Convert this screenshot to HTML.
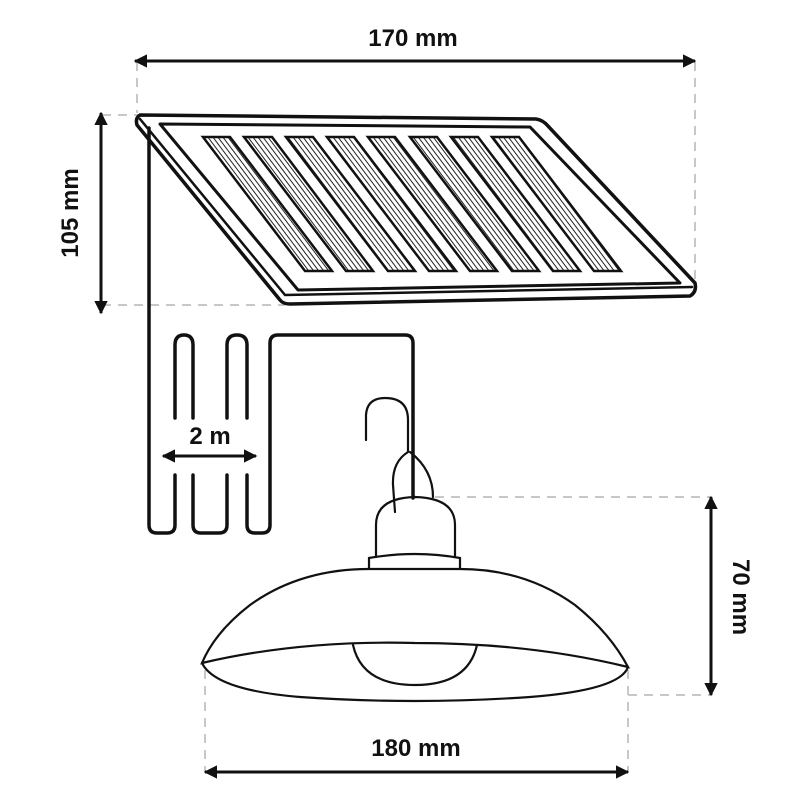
<!DOCTYPE html>
<html><head><style>body{margin:0;background:#fff}svg{display:block}text{font-family:"Liberation Sans",sans-serif;font-weight:bold;font-size:24px;fill:#111}</style></head>
<body>
<svg width="801" height="800" viewBox="0 0 801 800" xmlns="http://www.w3.org/2000/svg">
<defs>
<marker id="a" viewBox="0 0 10 10" refX="9" refY="5" markerWidth="4.5" markerHeight="4.5" orient="auto-start-reverse"><path d="M0,0L10,5L0,10z" fill="#111"/></marker>
<pattern id="h" width="4" height="4" patternUnits="userSpaceOnUse" patternTransform="rotate(53)"><rect width="4" height="4" fill="#fff"/><line x1="0" y1="0.5" x2="4" y2="0.5" stroke="#222" stroke-width="1"/></pattern>
</defs>
<g stroke="#c8c8c8" stroke-width="2" stroke-dasharray="9,7" fill="none">
<line x1="137" y1="62" x2="137" y2="113"/>
<line x1="695" y1="62" x2="695" y2="285"/>
<line x1="102" y1="115" x2="140" y2="115"/>
<line x1="102" y1="305" x2="285" y2="305"/>
<line x1="435" y1="497" x2="710" y2="497"/>
<line x1="628" y1="695" x2="710" y2="695"/>
<line x1="205" y1="670" x2="205" y2="772"/>
<line x1="628" y1="670" x2="628" y2="772"/>
</g>
<g stroke="#111" stroke-width="3" fill="none" marker-start="url(#a)" marker-end="url(#a)">
<line x1="135" y1="61" x2="695" y2="61"/>
<line x1="101" y1="113" x2="101" y2="313"/>
<line x1="711" y1="497" x2="711" y2="695"/>
<line x1="205" y1="772" x2="628" y2="772"/>
<line x1="163" y1="456" x2="256" y2="456"/>
</g>
<text x="413" y="46" text-anchor="middle">170 mm</text>
<text transform="translate(78,213) rotate(-90)" text-anchor="middle">105  mm</text>
<text transform="translate(733,597) rotate(90)" text-anchor="middle">70 mm</text>
<text x="416" y="756" text-anchor="middle">180 mm</text>
<text x="210" y="444" text-anchor="middle">2 m</text>
<g fill="none" stroke="#111" stroke-width="3.5" stroke-linejoin="round" stroke-linecap="round">
<path d="M149,128 L149,525 Q149,533 157,533 L167,533 Q175,533 175,525 L175,475 M175,418 L175,345 Q175,335 184,335 Q193,335 193,345 L193,418 M193,475 L193,525 Q193,533 201,533 L219,533 Q227,533 227,525 L227,475 M227,418 L227,345 Q227,335 237,335 Q247,335 247,345 L247,418 M247,475 L247,525 Q247,533 255,533 L262,533 Q270,533 270,525 L270,343 Q270,335 278,335 L405,335 Q413,335 413,343 L413,498"/>
<path d="M140,115 L536,119 Q543,120 548,126 L695,283 Q697,292 690,296 L290,304 Q283,304 280,300 L137,125 Q135,118 140,115 Z"/>
<path d="M140,119 L285,295 L692,287" stroke-width="2.5"/>
<path d="M160,124 L530,127 L680,283 L298,290 Z" stroke-width="3"/>
</g>
<g stroke="#111" stroke-width="2.5" fill="url(#h)">
<path d="M203,137 L230,137 L332,271 L305,271 Z"/>
<path d="M244,137 L272,137 L373,271 L346,271 Z"/>
<path d="M286,137 L313,137 L415,271 L388,271 Z"/>
<path d="M327,137 L354,137 L456,271 L429,271 Z"/>
<path d="M368,137 L395,137 L497,271 L470,271 Z"/>
<path d="M410,137 L437,137 L539,271 L512,271 Z"/>
<path d="M451,137 L478,137 L580,271 L553,271 Z"/>
<path d="M492,137 L519,137 L621,271 L594,271 Z"/>
</g>
<g fill="none" stroke="#111" stroke-width="2.2" stroke-linecap="round">
<path d="M366,440 L366,415 Q367,398 385,398 Q408,398 408,420 L408,452 Q392,462 393,485 L395,512"/>
<path d="M410,452 Q433,470 433,497"/>
<path d="M376,557 L376,525 Q376,498 415,497 Q455,498 455,525 L455,557"/>
<path d="M369,569 L369,558 Q415,550 460,558 L460,569"/>
<path d="M369,569 Q300,569 250,605 Q215,632 202,663 Q300,640 415,643 Q530,643 628,667 Q610,633 575,605 Q525,569 460,569 Z" fill="#fff"/>
<path d="M202,663 Q215,690 300,697 Q415,705 530,697 Q620,690 628,667"/>
<path d="M353,645 Q362,685 415,685 Q468,685 477,645"/>
</g>
</svg>
</body></html>
